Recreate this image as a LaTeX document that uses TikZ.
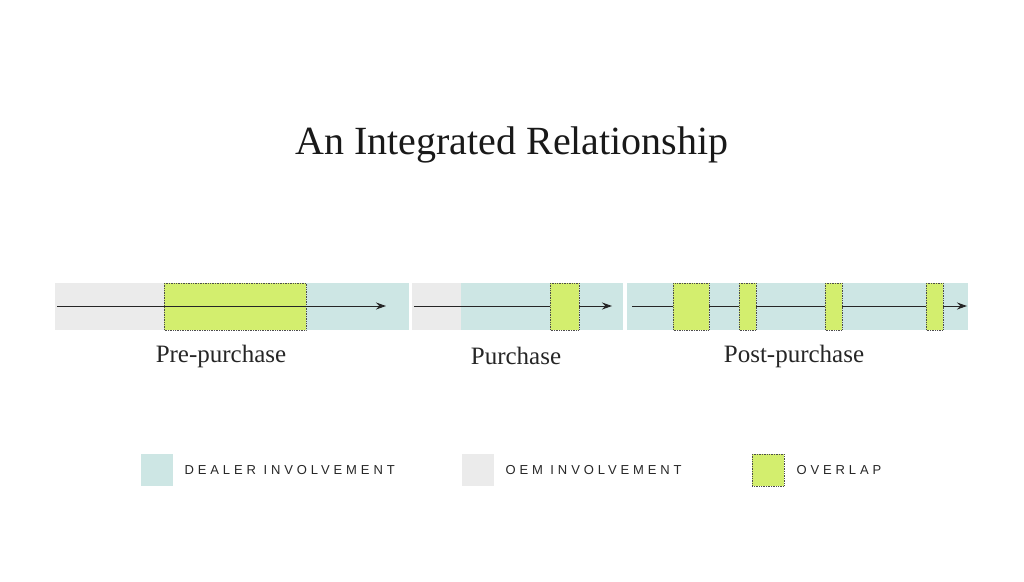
\documentclass[tikz,border=0pt]{standalone}
\usepackage{fontspec}
\setmainfont{Liberation Serif}
\newfontfamily\legfont[LetterSpace=30]{Liberation Sans}
\usetikzlibrary{arrows.meta}
\definecolor{teal0}{RGB}{205,230,228}
\definecolor{grey0}{RGB}{235,235,235}
\definecolor{lime0}{RGB}{211,238,110}
\tikzset{x=1pt,y=-1pt,
 dealer/.style={fill=teal0,draw=none},
 oem/.style={fill=grey0,draw=none},
 overlap/.style={fill=lime0,draw=black!70,densely dotted,line width=0.7pt},
 flow/.style={-{Stealth[length=10pt,width=7pt]},line width=1pt,black!85},
 lab/.style={font=\fontsize{25}{30}\selectfont,text=black!85},
 leg/.style={font=\legfont\fontsize{13}{15}\selectfont,text=black!85,anchor=west}}
\begin{document}
\begin{tikzpicture}
\useasboundingbox (0,0) rectangle (1024,581);
\node[font=\fontsize{40}{46}\selectfont,text=black!90] (title) at (512,145) {An Integrated Relationship};
% segment 1
\path[oem] (55,283) rectangle (164,330);
\path[dealer] (164,283) rectangle (409,330);
\draw[overlap] (164,283) rectangle (306,330);
\coordinate (a1) at (57,306); \coordinate (b1) at (386,306);
\draw[flow] (a1) -- (b1);
% segment 2
\path[oem] (412,283) rectangle (461,330);
\path[dealer] (461,283) rectangle (623,330);
\coordinate (a2) at (414,306); \coordinate (b2) at (612,306);
\draw[flow] (a2) -- (b2);
\draw[overlap] (550,283) rectangle (579,330);
% segment 3
\path[dealer] (627,283) rectangle (968,330);
\coordinate (a3) at (632,306); \coordinate (b3) at (967,306);
\draw[flow] (a3) -- (b3);
\draw[overlap] (673,283) rectangle (709,330);
\draw[overlap] (739,283) rectangle (756,330);
\draw[overlap] (825,283) rectangle (842,330);
\draw[overlap] (926,283) rectangle (943,330);
\node[lab] (l1) at (221,356) {Pre-purchase};
\node[lab] (l2) at (516,356) {Purchase};
\node[lab] (l3) at (794,356) {Post-purchase};
% legend
\path[dealer] (141,454) rectangle (173,486);
\node[leg] (d) at (181,470) {DEALER INVOLVEMENT};
\path[oem] (462,454) rectangle (494,486);
\node[leg] (o) at (502,470) {OEM INVOLVEMENT};
\draw[overlap] (752,454) rectangle (784,486);
\node[leg] (ov) at (793,470) {OVERLAP};
\end{tikzpicture}
\end{document}
